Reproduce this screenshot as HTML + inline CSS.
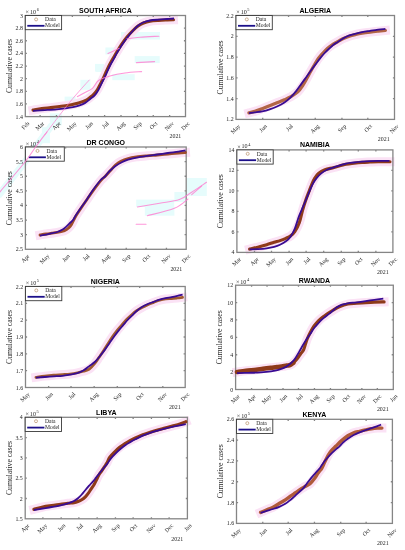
<!DOCTYPE html>
<html><head><meta charset="utf-8"><style>
html,body{margin:0;padding:0;background:#fff;width:405px;height:550px;overflow:hidden}
svg{display:block;filter:blur(0.3px)}
.s{font-family:"Liberation Serif",serif;fill:#262626}
.b{font-family:"Liberation Sans",sans-serif;font-weight:bold;fill:#000}
</style></head><body>
<svg width="405" height="550" viewBox="0 0 405 550">
<rect width="405" height="550" fill="#fff"/>
<rect x="64.6" y="96.6" width="11.0" height="6.0" fill="#e6fcfc"/>
<rect x="80.4" y="79.8" width="10.0" height="10.0" fill="#e6fcfc"/>
<rect x="96.2" y="64.0" width="8.0" height="8.0" fill="#e6fcfc"/>
<rect x="49.8" y="113.4" width="12.0" height="12.0" fill="#e6fcfc"/>
<rect x="41.9" y="127.2" width="8.0" height="16.0" fill="#e6fcfc"/>
<rect x="121.0" y="32.0" width="39.0" height="7.5" fill="#e6fcfc"/>
<rect x="134.7" y="56.1" width="25.0" height="7.0" fill="#e6fcfc"/>
<rect x="112.3" y="74.2" width="22.4" height="6.0" fill="#e6fcfc"/>
<rect x="95.0" y="63.9" width="8.6" height="7.7" fill="#e6fcfc"/>
<rect x="105.4" y="47.5" width="12.0" height="7.0" fill="#e6fcfc"/>
<rect x="136.2" y="199.6" width="38.0" height="7.4" fill="#e6fcfc"/>
<rect x="144.8" y="207.0" width="29.6" height="8.7" fill="#e6fcfc"/>
<rect x="174.4" y="192.0" width="12.4" height="10.0" fill="#e6fcfc"/>
<rect x="186.8" y="178.0" width="20.0" height="18.0" fill="#e6fcfc"/>
<path d="M-2,196 L25,162 L40,141 L52,125" stroke="#e6fcfc" stroke-width="7" fill="none"/>
<path d="M33.00,110.10 C34.48,109.85 38.95,109.02 41.90,108.60 C44.85,108.18 47.75,107.95 50.70,107.60 C53.65,107.25 56.63,106.88 59.60,106.50 C62.57,106.12 66.03,105.70 68.50,105.30 C70.97,104.90 72.42,104.58 74.40,104.10 C76.38,103.62 78.42,103.07 80.40,102.40 C82.38,101.73 84.70,100.92 86.30,100.10 C87.90,99.28 88.72,98.52 90.00,97.50 C91.28,96.48 92.75,95.33 94.00,94.00 C95.25,92.67 96.38,91.27 97.50,89.50 C98.62,87.73 99.65,85.45 100.70,83.40 C101.75,81.35 102.78,79.37 103.80,77.20 C104.82,75.03 105.78,72.60 106.80,70.40 C107.82,68.20 108.77,66.15 109.90,64.00 C111.03,61.85 112.50,59.42 113.60,57.50 C114.70,55.58 115.17,54.70 116.50,52.50 C117.83,50.30 119.85,46.88 121.60,44.30 C123.35,41.72 125.18,39.22 127.00,37.00 C128.82,34.78 130.67,32.83 132.50,31.00 C134.33,29.17 136.17,27.33 138.00,26.00 C139.83,24.67 141.50,23.80 143.50,23.00 C145.50,22.20 147.48,21.63 150.00,21.20 C152.52,20.77 155.72,20.60 158.60,20.40 C161.48,20.20 164.82,20.10 167.30,20.00 C169.78,19.90 172.47,19.83 173.50,19.80" fill="none" stroke="#fbe2f5" stroke-width="9" stroke-linejoin="round" stroke-linecap="square"/>
<rect x="25.30" y="15.50" width="160.20" height="101.10" fill="none" stroke="#858585" stroke-width="1.3"/>
<text x="22.90" y="118.60" font-size="5.9" text-anchor="end" class="s">1.4</text>
<path d="M25.30,103.96h1.60M185.50,103.96h-1.60" stroke="#858585" stroke-width="1.3"/>
<text x="22.90" y="105.96" font-size="5.9" text-anchor="end" class="s">1.6</text>
<path d="M25.30,91.33h1.60M185.50,91.33h-1.60" stroke="#858585" stroke-width="1.3"/>
<text x="22.90" y="93.33" font-size="5.9" text-anchor="end" class="s">1.8</text>
<path d="M25.30,78.69h1.60M185.50,78.69h-1.60" stroke="#858585" stroke-width="1.3"/>
<text x="22.90" y="80.69" font-size="5.9" text-anchor="end" class="s">2</text>
<path d="M25.30,66.05h1.60M185.50,66.05h-1.60" stroke="#858585" stroke-width="1.3"/>
<text x="22.90" y="68.05" font-size="5.9" text-anchor="end" class="s">2.2</text>
<path d="M25.30,53.41h1.60M185.50,53.41h-1.60" stroke="#858585" stroke-width="1.3"/>
<text x="22.90" y="55.41" font-size="5.9" text-anchor="end" class="s">2.4</text>
<path d="M25.30,40.77h1.60M185.50,40.77h-1.60" stroke="#858585" stroke-width="1.3"/>
<text x="22.90" y="42.77" font-size="5.9" text-anchor="end" class="s">2.6</text>
<path d="M25.30,28.14h1.60M185.50,28.14h-1.60" stroke="#858585" stroke-width="1.3"/>
<text x="22.90" y="30.14" font-size="5.9" text-anchor="end" class="s">2.8</text>
<text x="22.90" y="17.50" font-size="5.9" text-anchor="end" class="s">3</text>
<text transform="translate(29.90,123.80) rotate(-45)" font-size="5.9" text-anchor="end" class="s">Feb</text>
<path d="M40.10,116.60v-1.60M40.10,15.50v1.60" stroke="#858585" stroke-width="1.3"/>
<text transform="translate(44.70,123.80) rotate(-45)" font-size="5.9" text-anchor="end" class="s">Mar</text>
<path d="M56.49,116.60v-1.60M56.49,15.50v1.60" stroke="#858585" stroke-width="1.3"/>
<text transform="translate(61.09,123.80) rotate(-45)" font-size="5.9" text-anchor="end" class="s">Apr</text>
<path d="M72.36,116.60v-1.60M72.36,15.50v1.60" stroke="#858585" stroke-width="1.3"/>
<text transform="translate(76.96,123.80) rotate(-45)" font-size="5.9" text-anchor="end" class="s">May</text>
<path d="M88.75,116.60v-1.60M88.75,15.50v1.60" stroke="#858585" stroke-width="1.3"/>
<text transform="translate(93.35,123.80) rotate(-45)" font-size="5.9" text-anchor="end" class="s">Jun</text>
<path d="M104.61,116.60v-1.60M104.61,15.50v1.60" stroke="#858585" stroke-width="1.3"/>
<text transform="translate(109.21,123.80) rotate(-45)" font-size="5.9" text-anchor="end" class="s">Jul</text>
<path d="M121.00,116.60v-1.60M121.00,15.50v1.60" stroke="#858585" stroke-width="1.3"/>
<text transform="translate(125.60,123.80) rotate(-45)" font-size="5.9" text-anchor="end" class="s">Aug</text>
<path d="M137.39,116.60v-1.60M137.39,15.50v1.60" stroke="#858585" stroke-width="1.3"/>
<text transform="translate(141.99,123.80) rotate(-45)" font-size="5.9" text-anchor="end" class="s">Sep</text>
<path d="M153.25,116.60v-1.60M153.25,15.50v1.60" stroke="#858585" stroke-width="1.3"/>
<text transform="translate(157.85,123.80) rotate(-45)" font-size="5.9" text-anchor="end" class="s">Oct</text>
<path d="M169.64,116.60v-1.60M169.64,15.50v1.60" stroke="#858585" stroke-width="1.3"/>
<text transform="translate(174.24,123.80) rotate(-45)" font-size="5.9" text-anchor="end" class="s">Nov</text>
<text transform="translate(190.10,123.80) rotate(-45)" font-size="5.9" text-anchor="end" class="s">Dec</text>
<text x="175.40" y="138.00" font-size="5.9" text-anchor="middle" class="s">2021</text>
<text x="105.40" y="13.00" font-size="7.0" text-anchor="middle" class="b">SOUTH AFRICA</text>
<text transform="translate(11.80,66.05) rotate(-90)" font-size="7.7" text-anchor="middle" class="s">Cumulative cases</text>
<text x="25.60" y="14.00" font-size="6.1" class="s"><tspan dy="0.3">&#215;</tspan><tspan dx="0.9" dy="-0.3">10</tspan><tspan font-size="4.39" dx="0.6" dy="-2.8">6</tspan></text>
<path d="M33.00,110.10 C34.48,109.85 38.95,109.02 41.90,108.60 C44.85,108.18 47.75,107.95 50.70,107.60 C53.65,107.25 56.63,106.88 59.60,106.50 C62.57,106.12 66.03,105.70 68.50,105.30 C70.97,104.90 72.42,104.58 74.40,104.10 C76.38,103.62 78.42,103.07 80.40,102.40 C82.38,101.73 84.70,100.92 86.30,100.10 C87.90,99.28 88.72,98.52 90.00,97.50 C91.28,96.48 92.75,95.33 94.00,94.00 C95.25,92.67 96.38,91.27 97.50,89.50 C98.62,87.73 99.65,85.45 100.70,83.40 C101.75,81.35 102.78,79.37 103.80,77.20 C104.82,75.03 105.78,72.60 106.80,70.40 C107.82,68.20 108.77,66.15 109.90,64.00 C111.03,61.85 112.50,59.42 113.60,57.50 C114.70,55.58 115.17,54.70 116.50,52.50 C117.83,50.30 119.85,46.88 121.60,44.30 C123.35,41.72 125.18,39.22 127.00,37.00 C128.82,34.78 130.67,32.83 132.50,31.00 C134.33,29.17 136.17,27.33 138.00,26.00 C139.83,24.67 141.50,23.80 143.50,23.00 C145.50,22.20 147.48,21.63 150.00,21.20 C152.52,20.77 155.72,20.60 158.60,20.40 C161.48,20.20 164.82,20.10 167.30,20.00 C169.78,19.90 172.47,19.83 173.50,19.80" fill="none" stroke="#8e3a1a" stroke-width="3.1" stroke-linejoin="round" stroke-linecap="round"/>
<path d="M33.00,110.80 C34.97,110.68 40.85,110.35 44.80,110.10 C48.75,109.85 53.23,109.60 56.70,109.30 C60.17,109.00 62.88,108.67 65.60,108.30 C68.32,107.93 70.78,107.55 73.00,107.10 C75.22,106.65 76.93,106.27 78.90,105.60 C80.87,104.93 82.97,104.17 84.80,103.10 C86.63,102.03 88.22,100.53 89.90,99.20 C91.58,97.87 93.45,96.70 94.90,95.10 C96.35,93.50 97.47,91.55 98.60,89.60 C99.73,87.65 100.67,85.47 101.70,83.40 C102.73,81.33 103.78,79.37 104.80,77.20 C105.82,75.03 106.78,72.60 107.80,70.40 C108.82,68.20 109.77,66.15 110.90,64.00 C112.03,61.85 113.55,59.42 114.60,57.50 C115.65,55.58 115.90,54.70 117.20,52.50 C118.50,50.30 120.68,46.85 122.40,44.30 C124.12,41.75 125.78,39.42 127.50,37.20 C129.22,34.98 130.97,32.90 132.70,31.00 C134.43,29.10 136.17,27.22 137.90,25.80 C139.63,24.38 141.08,23.38 143.10,22.50 C145.12,21.62 147.42,20.98 150.00,20.50 C152.58,20.02 155.72,19.85 158.60,19.60 C161.48,19.35 164.73,19.18 167.30,19.00 C169.87,18.82 172.88,18.58 174.00,18.50" fill="none" stroke="#380c92" stroke-width="1.8" stroke-linejoin="round" stroke-linecap="butt"/>
<rect x="25.30" y="15.50" width="36.30" height="14.20" fill="#fff" stroke="#3a3a3a" stroke-width="0.9"/>
<circle cx="36.10" cy="19.40" r="1.5" fill="none" stroke="#b8906a" stroke-width="0.7"/>
<text x="45.10" y="21.30" font-size="5.6" class="s">Data</text>
<path d="M27.30,25.80h17.20" stroke="#1c108a" stroke-width="1.8"/>
<text x="45.10" y="27.30" font-size="5.6" class="s">Model</text>
<path d="M248.90,112.90 C249.88,112.65 252.58,112.10 254.80,111.40 C257.02,110.70 259.73,109.65 262.20,108.70 C264.67,107.75 267.13,106.68 269.60,105.70 C272.07,104.72 274.53,103.78 277.00,102.80 C279.47,101.82 282.17,100.78 284.40,99.80 C286.63,98.82 288.17,98.22 290.40,96.90 C292.63,95.58 295.75,93.80 297.80,91.90 C299.85,90.00 301.20,87.73 302.70,85.50 C304.20,83.27 305.48,80.83 306.80,78.50 C308.12,76.17 309.30,73.83 310.60,71.50 C311.90,69.17 313.28,66.70 314.60,64.50 C315.92,62.30 317.10,60.22 318.50,58.30 C319.90,56.38 321.52,54.63 323.00,53.00 C324.48,51.37 325.92,49.83 327.40,48.50 C328.88,47.17 330.40,46.02 331.90,45.00 C333.40,43.98 334.58,43.43 336.40,42.40 C338.22,41.37 340.65,39.83 342.80,38.80 C344.95,37.77 347.15,36.92 349.30,36.20 C351.45,35.48 353.57,35.00 355.70,34.50 C357.83,34.00 359.70,33.60 362.10,33.20 C364.50,32.80 367.42,32.43 370.10,32.10 C372.78,31.77 375.65,31.47 378.20,31.20 C380.75,30.93 384.20,30.62 385.40,30.50" fill="none" stroke="#fbe2f5" stroke-width="9" stroke-linejoin="round" stroke-linecap="square"/>
<rect x="236.00" y="15.50" width="158.50" height="103.90" fill="none" stroke="#858585" stroke-width="1.3"/>
<text x="233.60" y="121.40" font-size="5.9" text-anchor="end" class="s">1.2</text>
<path d="M236.00,98.62h1.60M394.50,98.62h-1.60" stroke="#858585" stroke-width="1.3"/>
<text x="233.60" y="100.62" font-size="5.9" text-anchor="end" class="s">1.4</text>
<path d="M236.00,77.84h1.60M394.50,77.84h-1.60" stroke="#858585" stroke-width="1.3"/>
<text x="233.60" y="79.84" font-size="5.9" text-anchor="end" class="s">1.6</text>
<path d="M236.00,57.06h1.60M394.50,57.06h-1.60" stroke="#858585" stroke-width="1.3"/>
<text x="233.60" y="59.06" font-size="5.9" text-anchor="end" class="s">1.8</text>
<path d="M236.00,36.28h1.60M394.50,36.28h-1.60" stroke="#858585" stroke-width="1.3"/>
<text x="233.60" y="38.28" font-size="5.9" text-anchor="end" class="s">2</text>
<text x="233.60" y="17.50" font-size="5.9" text-anchor="end" class="s">2.2</text>
<text transform="translate(240.60,126.60) rotate(-45)" font-size="5.9" text-anchor="end" class="s">May</text>
<path d="M262.70,119.40v-1.60M262.70,15.50v1.60" stroke="#858585" stroke-width="1.3"/>
<text transform="translate(267.30,126.60) rotate(-45)" font-size="5.9" text-anchor="end" class="s">Jun</text>
<path d="M288.55,119.40v-1.60M288.55,15.50v1.60" stroke="#858585" stroke-width="1.3"/>
<text transform="translate(293.15,126.60) rotate(-45)" font-size="5.9" text-anchor="end" class="s">Jul</text>
<path d="M315.25,119.40v-1.60M315.25,15.50v1.60" stroke="#858585" stroke-width="1.3"/>
<text transform="translate(319.85,126.60) rotate(-45)" font-size="5.9" text-anchor="end" class="s">Aug</text>
<path d="M341.95,119.40v-1.60M341.95,15.50v1.60" stroke="#858585" stroke-width="1.3"/>
<text transform="translate(346.55,126.60) rotate(-45)" font-size="5.9" text-anchor="end" class="s">Sep</text>
<path d="M367.80,119.40v-1.60M367.80,15.50v1.60" stroke="#858585" stroke-width="1.3"/>
<text transform="translate(372.40,126.60) rotate(-45)" font-size="5.9" text-anchor="end" class="s">Oct</text>
<text transform="translate(399.10,126.60) rotate(-45)" font-size="5.9" text-anchor="end" class="s">Nov</text>
<text x="383.70" y="140.50" font-size="5.9" text-anchor="middle" class="s">2021</text>
<text x="315.25" y="13.00" font-size="7.0" text-anchor="middle" class="b">ALGERIA</text>
<text transform="translate(222.50,67.45) rotate(-90)" font-size="7.7" text-anchor="middle" class="s">Cumulative cases</text>
<text x="236.30" y="14.00" font-size="6.1" class="s"><tspan dy="0.3">&#215;</tspan><tspan dx="0.9" dy="-0.3">10</tspan><tspan font-size="4.39" dx="0.6" dy="-2.8">5</tspan></text>
<path d="M248.90,112.90 C249.88,112.65 252.58,112.10 254.80,111.40 C257.02,110.70 259.73,109.65 262.20,108.70 C264.67,107.75 267.13,106.68 269.60,105.70 C272.07,104.72 274.53,103.78 277.00,102.80 C279.47,101.82 282.17,100.78 284.40,99.80 C286.63,98.82 288.17,98.22 290.40,96.90 C292.63,95.58 295.75,93.80 297.80,91.90 C299.85,90.00 301.20,87.73 302.70,85.50 C304.20,83.27 305.48,80.83 306.80,78.50 C308.12,76.17 309.30,73.83 310.60,71.50 C311.90,69.17 313.28,66.70 314.60,64.50 C315.92,62.30 317.10,60.22 318.50,58.30 C319.90,56.38 321.52,54.63 323.00,53.00 C324.48,51.37 325.92,49.83 327.40,48.50 C328.88,47.17 330.40,46.02 331.90,45.00 C333.40,43.98 334.58,43.43 336.40,42.40 C338.22,41.37 340.65,39.83 342.80,38.80 C344.95,37.77 347.15,36.92 349.30,36.20 C351.45,35.48 353.57,35.00 355.70,34.50 C357.83,34.00 359.70,33.60 362.10,33.20 C364.50,32.80 367.42,32.43 370.10,32.10 C372.78,31.77 375.65,31.47 378.20,31.20 C380.75,30.93 384.20,30.62 385.40,30.50" fill="none" stroke="#b26446" stroke-width="3.2" stroke-linejoin="round" stroke-linecap="round"/>
<path d="M248.90,113.10 C249.88,112.98 252.58,112.68 254.80,112.40 C257.02,112.12 259.73,111.90 262.20,111.40 C264.67,110.90 267.13,110.22 269.60,109.40 C272.07,108.58 274.53,107.65 277.00,106.50 C279.47,105.35 282.17,103.98 284.40,102.50 C286.63,101.02 288.42,99.53 290.40,97.60 C292.38,95.67 294.50,93.15 296.30,90.90 C298.10,88.65 299.58,86.35 301.20,84.10 C302.82,81.85 304.40,79.63 306.00,77.40 C307.60,75.17 309.18,72.92 310.80,70.70 C312.42,68.48 314.12,66.20 315.70,64.10 C317.28,62.00 318.80,59.95 320.30,58.10 C321.80,56.25 323.20,54.60 324.70,53.00 C326.20,51.40 327.83,49.87 329.30,48.50 C330.77,47.13 332.08,45.90 333.50,44.80 C334.92,43.70 336.12,43.02 337.80,41.90 C339.48,40.78 341.68,39.20 343.60,38.10 C345.52,37.00 347.28,36.05 349.30,35.30 C351.32,34.55 353.57,34.13 355.70,33.60 C357.83,33.07 359.70,32.57 362.10,32.10 C364.50,31.63 367.42,31.22 370.10,30.80 C372.78,30.38 375.65,29.92 378.20,29.60 C380.75,29.28 384.20,29.02 385.40,28.90" fill="none" stroke="#380c92" stroke-width="1.8" stroke-linejoin="round" stroke-linecap="butt"/>
<rect x="236.00" y="15.50" width="36.30" height="14.20" fill="#fff" stroke="#3a3a3a" stroke-width="0.9"/>
<circle cx="246.80" cy="19.40" r="1.5" fill="none" stroke="#b8906a" stroke-width="0.7"/>
<text x="255.80" y="21.30" font-size="5.6" class="s">Data</text>
<path d="M238.00,25.80h17.20" stroke="#1c108a" stroke-width="1.8"/>
<text x="255.80" y="27.30" font-size="5.6" class="s">Model</text>
<path d="M40.00,235.00 C41.02,234.83 44.15,234.30 46.10,234.00 C48.05,233.70 49.85,233.47 51.70,233.20 C53.55,232.93 55.48,232.70 57.20,232.40 C58.92,232.10 60.73,231.72 62.00,231.40 C63.27,231.08 63.72,231.07 64.80,230.50 C65.88,229.93 67.38,229.00 68.50,228.00 C69.62,227.00 70.32,226.42 71.50,224.50 C72.68,222.58 73.77,219.58 75.60,216.50 C77.43,213.42 80.68,208.72 82.50,206.00 C84.32,203.28 84.67,202.83 86.50,200.20 C88.33,197.57 91.05,193.53 93.50,190.20 C95.95,186.87 99.20,182.57 101.20,180.20 C103.20,177.83 103.95,177.62 105.50,176.00 C107.05,174.38 108.83,172.33 110.50,170.50 C112.17,168.67 113.75,166.55 115.50,165.00 C117.25,163.45 118.90,162.28 121.00,161.20 C123.10,160.12 125.52,159.22 128.10,158.50 C130.68,157.78 133.35,157.35 136.50,156.90 C139.65,156.45 143.50,156.12 147.00,155.80 C150.50,155.48 154.00,155.30 157.50,155.00 C161.00,154.70 164.50,154.33 168.00,154.00 C171.50,153.67 175.58,153.25 178.50,153.00 C181.42,152.75 184.33,152.58 185.50,152.50" fill="none" stroke="#fbe2f5" stroke-width="9" stroke-linejoin="round" stroke-linecap="square"/>
<rect x="25.40" y="147.00" width="160.80" height="102.30" fill="none" stroke="#858585" stroke-width="1.3"/>
<text x="23.00" y="251.30" font-size="5.9" text-anchor="end" class="s">2.5</text>
<path d="M25.40,234.69h1.60M186.20,234.69h-1.60" stroke="#858585" stroke-width="1.3"/>
<text x="23.00" y="236.69" font-size="5.9" text-anchor="end" class="s">3</text>
<path d="M25.40,220.07h1.60M186.20,220.07h-1.60" stroke="#858585" stroke-width="1.3"/>
<text x="23.00" y="222.07" font-size="5.9" text-anchor="end" class="s">3.5</text>
<path d="M25.40,205.46h1.60M186.20,205.46h-1.60" stroke="#858585" stroke-width="1.3"/>
<text x="23.00" y="207.46" font-size="5.9" text-anchor="end" class="s">4</text>
<path d="M25.40,190.84h1.60M186.20,190.84h-1.60" stroke="#858585" stroke-width="1.3"/>
<text x="23.00" y="192.84" font-size="5.9" text-anchor="end" class="s">4.5</text>
<path d="M25.40,176.23h1.60M186.20,176.23h-1.60" stroke="#858585" stroke-width="1.3"/>
<text x="23.00" y="178.23" font-size="5.9" text-anchor="end" class="s">5</text>
<path d="M25.40,161.61h1.60M186.20,161.61h-1.60" stroke="#858585" stroke-width="1.3"/>
<text x="23.00" y="163.61" font-size="5.9" text-anchor="end" class="s">5.5</text>
<text x="23.00" y="149.00" font-size="5.9" text-anchor="end" class="s">6</text>
<text transform="translate(30.00,256.50) rotate(-45)" font-size="5.9" text-anchor="end" class="s">Apr</text>
<path d="M45.17,249.30v-1.60M45.17,147.00v1.60" stroke="#858585" stroke-width="1.3"/>
<text transform="translate(49.77,256.50) rotate(-45)" font-size="5.9" text-anchor="end" class="s">May</text>
<path d="M65.60,249.30v-1.60M65.60,147.00v1.60" stroke="#858585" stroke-width="1.3"/>
<text transform="translate(70.20,256.50) rotate(-45)" font-size="5.9" text-anchor="end" class="s">Jun</text>
<path d="M85.37,249.30v-1.60M85.37,147.00v1.60" stroke="#858585" stroke-width="1.3"/>
<text transform="translate(89.97,256.50) rotate(-45)" font-size="5.9" text-anchor="end" class="s">Jul</text>
<path d="M105.80,249.30v-1.60M105.80,147.00v1.60" stroke="#858585" stroke-width="1.3"/>
<text transform="translate(110.40,256.50) rotate(-45)" font-size="5.9" text-anchor="end" class="s">Aug</text>
<path d="M126.23,249.30v-1.60M126.23,147.00v1.60" stroke="#858585" stroke-width="1.3"/>
<text transform="translate(130.83,256.50) rotate(-45)" font-size="5.9" text-anchor="end" class="s">Sep</text>
<path d="M146.00,249.30v-1.60M146.00,147.00v1.60" stroke="#858585" stroke-width="1.3"/>
<text transform="translate(150.60,256.50) rotate(-45)" font-size="5.9" text-anchor="end" class="s">Oct</text>
<path d="M166.43,249.30v-1.60M166.43,147.00v1.60" stroke="#858585" stroke-width="1.3"/>
<text transform="translate(171.03,256.50) rotate(-45)" font-size="5.9" text-anchor="end" class="s">Nov</text>
<text transform="translate(190.80,256.50) rotate(-45)" font-size="5.9" text-anchor="end" class="s">Dec</text>
<text x="176.30" y="271.00" font-size="5.9" text-anchor="middle" class="s">2021</text>
<text x="105.80" y="144.50" font-size="7.0" text-anchor="middle" class="b">DR CONGO</text>
<text transform="translate(11.90,198.15) rotate(-90)" font-size="7.7" text-anchor="middle" class="s">Cumulative cases</text>
<text x="25.70" y="145.50" font-size="6.1" class="s"><tspan dy="0.3">&#215;</tspan><tspan dx="0.9" dy="-0.3">10</tspan><tspan font-size="4.39" dx="0.6" dy="-2.8">4</tspan></text>
<path d="M40.00,235.00 C41.02,234.83 44.15,234.30 46.10,234.00 C48.05,233.70 49.85,233.47 51.70,233.20 C53.55,232.93 55.48,232.70 57.20,232.40 C58.92,232.10 60.73,231.72 62.00,231.40 C63.27,231.08 63.72,231.07 64.80,230.50 C65.88,229.93 67.38,229.00 68.50,228.00 C69.62,227.00 70.32,226.42 71.50,224.50 C72.68,222.58 73.77,219.58 75.60,216.50 C77.43,213.42 80.68,208.72 82.50,206.00 C84.32,203.28 84.67,202.83 86.50,200.20 C88.33,197.57 91.05,193.53 93.50,190.20 C95.95,186.87 99.20,182.57 101.20,180.20 C103.20,177.83 103.95,177.62 105.50,176.00 C107.05,174.38 108.83,172.33 110.50,170.50 C112.17,168.67 113.75,166.55 115.50,165.00 C117.25,163.45 118.90,162.28 121.00,161.20 C123.10,160.12 125.52,159.22 128.10,158.50 C130.68,157.78 133.35,157.35 136.50,156.90 C139.65,156.45 143.50,156.12 147.00,155.80 C150.50,155.48 154.00,155.30 157.50,155.00 C161.00,154.70 164.50,154.33 168.00,154.00 C171.50,153.67 175.58,153.25 178.50,153.00 C181.42,152.75 184.33,152.58 185.50,152.50" fill="none" stroke="#a04c2c" stroke-width="2.8" stroke-linejoin="round" stroke-linecap="round"/>
<path d="M40.00,235.60 C41.02,235.43 44.43,234.93 46.10,234.60 C47.77,234.27 48.12,234.03 50.00,233.60 C51.88,233.17 55.30,232.67 57.40,232.00 C59.50,231.33 61.12,230.48 62.60,229.60 C64.08,228.72 65.07,227.80 66.30,226.70 C67.53,225.60 68.88,224.12 70.00,223.00 C71.12,221.88 72.00,221.33 73.00,220.00 C74.00,218.67 74.35,217.50 76.00,215.00 C77.65,212.50 81.15,207.50 82.90,205.00 C84.65,202.50 84.82,202.50 86.50,200.00 C88.18,197.50 90.63,193.33 93.00,190.00 C95.37,186.67 98.70,182.25 100.70,180.00 C102.70,177.75 103.58,177.92 105.00,176.50 C106.42,175.08 107.45,173.25 109.20,171.50 C110.95,169.75 113.40,167.55 115.50,166.00 C117.60,164.45 119.70,163.25 121.80,162.20 C123.90,161.15 125.65,160.47 128.10,159.70 C130.55,158.93 133.35,158.23 136.50,157.60 C139.65,156.97 143.50,156.42 147.00,155.90 C150.50,155.38 154.00,154.98 157.50,154.50 C161.00,154.02 164.50,153.47 168.00,153.00 C171.50,152.53 175.58,152.12 178.50,151.70 C181.42,151.28 184.33,150.70 185.50,150.50" fill="none" stroke="#380c92" stroke-width="1.8" stroke-linejoin="round" stroke-linecap="butt"/>
<rect x="25.40" y="147.00" width="38.90" height="14.20" fill="#fff" stroke="#3a3a3a" stroke-width="0.9"/>
<circle cx="37.50" cy="150.90" r="1.5" fill="none" stroke="#b8906a" stroke-width="0.7"/>
<text x="46.50" y="152.80" font-size="5.6" class="s">Data</text>
<path d="M28.70,157.30h17.20" stroke="#1c108a" stroke-width="1.8"/>
<text x="46.50" y="158.80" font-size="5.6" class="s">Model</text>
<path d="M249.60,249.10 C250.97,248.78 254.95,247.93 257.80,247.20 C260.65,246.47 263.98,245.52 266.70,244.70 C269.42,243.88 271.88,242.98 274.10,242.30 C276.32,241.62 278.03,241.27 280.00,240.60 C281.97,239.93 284.17,239.05 285.90,238.30 C287.63,237.55 288.92,237.20 290.40,236.10 C291.88,235.00 293.32,233.92 294.80,231.70 C296.28,229.48 298.02,226.33 299.30,222.80 C300.58,219.27 301.42,214.30 302.50,210.50 C303.58,206.70 304.75,203.08 305.80,200.00 C306.85,196.92 307.85,194.50 308.80,192.00 C309.75,189.50 310.55,187.25 311.50,185.00 C312.45,182.75 313.33,180.42 314.50,178.50 C315.67,176.58 316.75,174.95 318.50,173.50 C320.25,172.05 322.42,170.80 325.00,169.80 C327.58,168.80 330.50,168.42 334.00,167.50 C337.50,166.58 342.67,165.02 346.00,164.30 C349.33,163.58 351.33,163.52 354.00,163.20 C356.67,162.88 359.33,162.60 362.00,162.40 C364.67,162.20 367.30,162.12 370.00,162.00 C372.70,161.88 374.87,161.75 378.20,161.70 C381.53,161.65 388.03,161.70 390.00,161.70" fill="none" stroke="#fbe2f5" stroke-width="9" stroke-linejoin="round" stroke-linecap="square"/>
<rect x="236.90" y="149.90" width="156.00" height="102.50" fill="none" stroke="#858585" stroke-width="1.3"/>
<text x="234.50" y="254.40" font-size="5.9" text-anchor="end" class="s">4</text>
<path d="M236.90,231.90h1.60M392.90,231.90h-1.60" stroke="#858585" stroke-width="1.3"/>
<text x="234.50" y="233.90" font-size="5.9" text-anchor="end" class="s">6</text>
<path d="M236.90,211.40h1.60M392.90,211.40h-1.60" stroke="#858585" stroke-width="1.3"/>
<text x="234.50" y="213.40" font-size="5.9" text-anchor="end" class="s">8</text>
<path d="M236.90,190.90h1.60M392.90,190.90h-1.60" stroke="#858585" stroke-width="1.3"/>
<text x="234.50" y="192.90" font-size="5.9" text-anchor="end" class="s">10</text>
<path d="M236.90,170.40h1.60M392.90,170.40h-1.60" stroke="#858585" stroke-width="1.3"/>
<text x="234.50" y="172.40" font-size="5.9" text-anchor="end" class="s">12</text>
<text x="234.50" y="151.90" font-size="5.9" text-anchor="end" class="s">14</text>
<text transform="translate(241.50,259.60) rotate(-45)" font-size="5.9" text-anchor="end" class="s">Mar</text>
<path d="M254.49,252.40v-1.60M254.49,149.90v1.60" stroke="#858585" stroke-width="1.3"/>
<text transform="translate(259.09,259.60) rotate(-45)" font-size="5.9" text-anchor="end" class="s">Apr</text>
<path d="M271.50,252.40v-1.60M271.50,149.90v1.60" stroke="#858585" stroke-width="1.3"/>
<text transform="translate(276.10,259.60) rotate(-45)" font-size="5.9" text-anchor="end" class="s">May</text>
<path d="M289.09,252.40v-1.60M289.09,149.90v1.60" stroke="#858585" stroke-width="1.3"/>
<text transform="translate(293.69,259.60) rotate(-45)" font-size="5.9" text-anchor="end" class="s">Jun</text>
<path d="M306.11,252.40v-1.60M306.11,149.90v1.60" stroke="#858585" stroke-width="1.3"/>
<text transform="translate(310.71,259.60) rotate(-45)" font-size="5.9" text-anchor="end" class="s">Jul</text>
<path d="M323.69,252.40v-1.60M323.69,149.90v1.60" stroke="#858585" stroke-width="1.3"/>
<text transform="translate(328.29,259.60) rotate(-45)" font-size="5.9" text-anchor="end" class="s">Aug</text>
<path d="M341.28,252.40v-1.60M341.28,149.90v1.60" stroke="#858585" stroke-width="1.3"/>
<text transform="translate(345.88,259.60) rotate(-45)" font-size="5.9" text-anchor="end" class="s">Sep</text>
<path d="M358.30,252.40v-1.60M358.30,149.90v1.60" stroke="#858585" stroke-width="1.3"/>
<text transform="translate(362.90,259.60) rotate(-45)" font-size="5.9" text-anchor="end" class="s">Oct</text>
<path d="M375.88,252.40v-1.60M375.88,149.90v1.60" stroke="#858585" stroke-width="1.3"/>
<text transform="translate(380.48,259.60) rotate(-45)" font-size="5.9" text-anchor="end" class="s">Nov</text>
<text transform="translate(397.50,259.60) rotate(-45)" font-size="5.9" text-anchor="end" class="s">Dec</text>
<text x="382.80" y="274.00" font-size="5.9" text-anchor="middle" class="s">2021</text>
<text x="314.90" y="147.40" font-size="7.0" text-anchor="middle" class="b">NAMIBIA</text>
<text transform="translate(223.40,201.15) rotate(-90)" font-size="7.7" text-anchor="middle" class="s">Cumulative cases</text>
<text x="237.20" y="148.40" font-size="6.1" class="s"><tspan dy="0.3">&#215;</tspan><tspan dx="0.9" dy="-0.3">10</tspan><tspan font-size="4.39" dx="0.6" dy="-2.8">4</tspan></text>
<path d="M249.60,249.10 C250.97,248.78 254.95,247.93 257.80,247.20 C260.65,246.47 263.98,245.52 266.70,244.70 C269.42,243.88 271.88,242.98 274.10,242.30 C276.32,241.62 278.03,241.27 280.00,240.60 C281.97,239.93 284.17,239.05 285.90,238.30 C287.63,237.55 288.92,237.20 290.40,236.10 C291.88,235.00 293.32,233.92 294.80,231.70 C296.28,229.48 298.02,226.33 299.30,222.80 C300.58,219.27 301.42,214.30 302.50,210.50 C303.58,206.70 304.75,203.08 305.80,200.00 C306.85,196.92 307.85,194.50 308.80,192.00 C309.75,189.50 310.55,187.25 311.50,185.00 C312.45,182.75 313.33,180.42 314.50,178.50 C315.67,176.58 316.75,174.95 318.50,173.50 C320.25,172.05 322.42,170.80 325.00,169.80 C327.58,168.80 330.50,168.42 334.00,167.50 C337.50,166.58 342.67,165.02 346.00,164.30 C349.33,163.58 351.33,163.52 354.00,163.20 C356.67,162.88 359.33,162.60 362.00,162.40 C364.67,162.20 367.30,162.12 370.00,162.00 C372.70,161.88 374.87,161.75 378.20,161.70 C381.53,161.65 388.03,161.70 390.00,161.70" fill="none" stroke="#8e3a1a" stroke-width="3.1" stroke-linejoin="round" stroke-linecap="round"/>
<path d="M249.60,249.40 C250.97,249.35 254.95,249.28 257.80,249.10 C260.65,248.92 263.98,248.68 266.70,248.30 C269.42,247.92 271.88,247.40 274.10,246.80 C276.32,246.20 278.03,245.62 280.00,244.70 C281.97,243.78 284.17,242.60 285.90,241.30 C287.63,240.00 288.92,239.00 290.40,236.90 C291.88,234.80 293.37,232.17 294.80,228.70 C296.23,225.23 297.67,219.68 299.00,216.10 C300.33,212.52 301.53,210.17 302.80,207.20 C304.07,204.23 305.43,201.07 306.60,198.30 C307.77,195.53 308.73,193.05 309.80,190.60 C310.87,188.15 311.83,185.72 313.00,183.60 C314.17,181.48 315.42,179.60 316.80,177.90 C318.18,176.20 319.60,174.75 321.30,173.40 C323.00,172.05 324.88,170.82 327.00,169.80 C329.12,168.78 330.83,168.33 334.00,167.30 C337.17,166.27 342.67,164.40 346.00,163.60 C349.33,162.80 351.33,162.82 354.00,162.50 C356.67,162.18 359.33,161.92 362.00,161.70 C364.67,161.48 367.30,161.33 370.00,161.20 C372.70,161.07 374.97,160.97 378.20,160.90 C381.43,160.83 387.53,160.82 389.40,160.80" fill="none" stroke="#380c92" stroke-width="1.8" stroke-linejoin="round" stroke-linecap="butt"/>
<rect x="236.90" y="149.90" width="36.30" height="14.20" fill="#fff" stroke="#3a3a3a" stroke-width="0.9"/>
<circle cx="247.70" cy="153.80" r="1.5" fill="none" stroke="#b8906a" stroke-width="0.7"/>
<text x="256.70" y="155.70" font-size="5.6" class="s">Data</text>
<path d="M238.90,160.20h17.20" stroke="#1c108a" stroke-width="1.8"/>
<text x="256.70" y="161.70" font-size="5.6" class="s">Model</text>
<path d="M35.90,377.30 C37.38,377.10 41.83,376.45 44.80,376.10 C47.77,375.75 50.73,375.45 53.70,375.20 C56.67,374.95 59.88,374.80 62.60,374.60 C65.32,374.40 67.53,374.30 70.00,374.00 C72.47,373.70 75.18,373.25 77.40,372.80 C79.62,372.35 81.32,371.92 83.30,371.30 C85.28,370.68 87.38,370.40 89.30,369.10 C91.22,367.80 93.13,365.52 94.80,363.50 C96.47,361.48 97.82,359.17 99.30,357.00 C100.78,354.83 102.23,352.75 103.70,350.50 C105.17,348.25 106.62,345.82 108.10,343.50 C109.58,341.18 111.12,338.75 112.60,336.60 C114.08,334.45 115.52,332.47 117.00,330.60 C118.48,328.73 120.02,327.12 121.50,325.40 C122.98,323.68 124.42,321.87 125.90,320.30 C127.38,318.73 128.73,317.52 130.40,316.00 C132.07,314.48 133.98,312.60 135.90,311.20 C137.82,309.80 139.92,308.68 141.90,307.60 C143.88,306.52 145.83,305.57 147.80,304.70 C149.77,303.83 151.73,303.13 153.70,302.40 C155.67,301.67 157.62,300.87 159.60,300.30 C161.58,299.73 163.62,299.28 165.60,299.00 C167.58,298.72 169.53,298.77 171.50,298.60 C173.47,298.43 175.55,298.20 177.40,298.00 C179.25,297.80 181.73,297.50 182.60,297.40" fill="none" stroke="#fbe2f5" stroke-width="9" stroke-linejoin="round" stroke-linecap="square"/>
<rect x="25.50" y="286.50" width="159.70" height="101.00" fill="none" stroke="#858585" stroke-width="1.3"/>
<text x="23.10" y="389.50" font-size="5.9" text-anchor="end" class="s">1.6</text>
<path d="M25.50,370.67h1.60M185.20,370.67h-1.60" stroke="#858585" stroke-width="1.3"/>
<text x="23.10" y="372.67" font-size="5.9" text-anchor="end" class="s">1.7</text>
<path d="M25.50,353.83h1.60M185.20,353.83h-1.60" stroke="#858585" stroke-width="1.3"/>
<text x="23.10" y="355.83" font-size="5.9" text-anchor="end" class="s">1.8</text>
<path d="M25.50,337.00h1.60M185.20,337.00h-1.60" stroke="#858585" stroke-width="1.3"/>
<text x="23.10" y="339.00" font-size="5.9" text-anchor="end" class="s">1.9</text>
<path d="M25.50,320.17h1.60M185.20,320.17h-1.60" stroke="#858585" stroke-width="1.3"/>
<text x="23.10" y="322.17" font-size="5.9" text-anchor="end" class="s">2</text>
<path d="M25.50,303.33h1.60M185.20,303.33h-1.60" stroke="#858585" stroke-width="1.3"/>
<text x="23.10" y="305.33" font-size="5.9" text-anchor="end" class="s">2.1</text>
<text x="23.10" y="288.50" font-size="5.9" text-anchor="end" class="s">2.2</text>
<text transform="translate(30.10,394.70) rotate(-45)" font-size="5.9" text-anchor="end" class="s">May</text>
<path d="M48.63,387.50v-1.60M48.63,286.50v1.60" stroke="#858585" stroke-width="1.3"/>
<text transform="translate(53.23,394.70) rotate(-45)" font-size="5.9" text-anchor="end" class="s">Jun</text>
<path d="M71.02,387.50v-1.60M71.02,286.50v1.60" stroke="#858585" stroke-width="1.3"/>
<text transform="translate(75.62,394.70) rotate(-45)" font-size="5.9" text-anchor="end" class="s">Jul</text>
<path d="M94.16,387.50v-1.60M94.16,286.50v1.60" stroke="#858585" stroke-width="1.3"/>
<text transform="translate(98.76,394.70) rotate(-45)" font-size="5.9" text-anchor="end" class="s">Aug</text>
<path d="M117.29,387.50v-1.60M117.29,286.50v1.60" stroke="#858585" stroke-width="1.3"/>
<text transform="translate(121.89,394.70) rotate(-45)" font-size="5.9" text-anchor="end" class="s">Sep</text>
<path d="M139.68,387.50v-1.60M139.68,286.50v1.60" stroke="#858585" stroke-width="1.3"/>
<text transform="translate(144.28,394.70) rotate(-45)" font-size="5.9" text-anchor="end" class="s">Oct</text>
<path d="M162.81,387.50v-1.60M162.81,286.50v1.60" stroke="#858585" stroke-width="1.3"/>
<text transform="translate(167.41,394.70) rotate(-45)" font-size="5.9" text-anchor="end" class="s">Nov</text>
<text transform="translate(189.80,394.70) rotate(-45)" font-size="5.9" text-anchor="end" class="s">Dec</text>
<text x="174.80" y="409.00" font-size="5.9" text-anchor="middle" class="s">2021</text>
<text x="105.35" y="284.00" font-size="7.0" text-anchor="middle" class="b">NIGERIA</text>
<text transform="translate(12.00,337.00) rotate(-90)" font-size="7.7" text-anchor="middle" class="s">Cumulative cases</text>
<text x="25.80" y="285.00" font-size="6.1" class="s"><tspan dy="0.3">&#215;</tspan><tspan dx="0.9" dy="-0.3">10</tspan><tspan font-size="4.39" dx="0.6" dy="-2.8">5</tspan></text>
<path d="M35.90,377.30 C37.38,377.10 41.83,376.45 44.80,376.10 C47.77,375.75 50.73,375.45 53.70,375.20 C56.67,374.95 59.88,374.80 62.60,374.60 C65.32,374.40 67.53,374.30 70.00,374.00 C72.47,373.70 75.18,373.25 77.40,372.80 C79.62,372.35 81.32,371.92 83.30,371.30 C85.28,370.68 87.38,370.40 89.30,369.10 C91.22,367.80 93.13,365.52 94.80,363.50 C96.47,361.48 97.82,359.17 99.30,357.00 C100.78,354.83 102.23,352.75 103.70,350.50 C105.17,348.25 106.62,345.82 108.10,343.50 C109.58,341.18 111.12,338.75 112.60,336.60 C114.08,334.45 115.52,332.47 117.00,330.60 C118.48,328.73 120.02,327.12 121.50,325.40 C122.98,323.68 124.42,321.87 125.90,320.30 C127.38,318.73 128.73,317.52 130.40,316.00 C132.07,314.48 133.98,312.60 135.90,311.20 C137.82,309.80 139.92,308.68 141.90,307.60 C143.88,306.52 145.83,305.57 147.80,304.70 C149.77,303.83 151.73,303.13 153.70,302.40 C155.67,301.67 157.62,300.87 159.60,300.30 C161.58,299.73 163.62,299.28 165.60,299.00 C167.58,298.72 169.53,298.77 171.50,298.60 C173.47,298.43 175.55,298.20 177.40,298.00 C179.25,297.80 181.73,297.50 182.60,297.40" fill="none" stroke="#a05a30" stroke-width="2.7" stroke-linejoin="round" stroke-linecap="round"/>
<path d="M35.90,377.70 C37.38,377.58 41.83,377.22 44.80,377.00 C47.77,376.78 50.73,376.60 53.70,376.40 C56.67,376.20 59.88,376.10 62.60,375.80 C65.32,375.50 67.53,375.05 70.00,374.60 C72.47,374.15 75.18,373.77 77.40,373.10 C79.62,372.43 81.32,371.77 83.30,370.60 C85.28,369.43 87.30,367.62 89.30,366.10 C91.30,364.58 93.47,363.25 95.30,361.50 C97.13,359.75 98.68,357.58 100.30,355.60 C101.92,353.62 103.45,351.70 105.00,349.60 C106.55,347.50 108.05,345.22 109.60,343.00 C111.15,340.78 112.77,338.40 114.30,336.30 C115.83,334.20 117.32,332.25 118.80,330.40 C120.28,328.55 121.73,326.93 123.20,325.20 C124.67,323.47 126.13,321.60 127.60,320.00 C129.07,318.40 130.43,317.15 132.00,315.60 C133.57,314.05 135.35,312.13 137.00,310.70 C138.65,309.27 140.10,308.12 141.90,307.00 C143.70,305.88 145.83,304.87 147.80,304.00 C149.77,303.13 151.73,302.53 153.70,301.80 C155.67,301.07 157.62,300.22 159.60,299.60 C161.58,298.98 163.62,298.52 165.60,298.10 C167.58,297.68 169.53,297.47 171.50,297.10 C173.47,296.73 175.55,296.30 177.40,295.90 C179.25,295.50 181.73,294.90 182.60,294.70" fill="none" stroke="#380c92" stroke-width="1.8" stroke-linejoin="round" stroke-linecap="butt"/>
<rect x="25.50" y="286.50" width="36.30" height="14.20" fill="#fff" stroke="#3a3a3a" stroke-width="0.9"/>
<circle cx="36.30" cy="290.40" r="1.5" fill="none" stroke="#b8906a" stroke-width="0.7"/>
<text x="45.30" y="292.30" font-size="5.6" class="s">Data</text>
<path d="M27.50,296.80h17.20" stroke="#1c108a" stroke-width="1.8"/>
<text x="45.30" y="298.30" font-size="5.6" class="s">Model</text>
<path d="M237.00,372.00 C238.50,371.80 242.80,371.17 246.00,370.80 C249.20,370.43 253.37,370.13 256.20,369.80 C259.03,369.47 260.53,369.13 263.00,368.80 C265.47,368.47 268.67,368.10 271.00,367.80 C273.33,367.50 275.02,367.23 277.00,367.00 C278.98,366.77 281.23,366.63 282.90,366.40 C284.57,366.17 285.77,365.85 287.00,365.60 C288.23,365.35 289.25,365.37 290.30,364.90 C291.35,364.43 292.18,363.78 293.30,362.80 C294.42,361.82 295.80,360.47 297.00,359.00 C298.20,357.53 299.42,355.50 300.50,354.00 C301.58,352.50 302.67,351.67 303.50,350.00 C304.33,348.33 304.85,345.92 305.50,344.00 C306.15,342.08 306.65,340.33 307.40,338.50 C308.15,336.67 309.07,334.83 310.00,333.00 C310.93,331.17 311.92,329.17 313.00,327.50 C314.08,325.83 315.33,324.37 316.50,323.00 C317.67,321.63 318.68,320.47 320.00,319.30 C321.32,318.13 322.92,317.08 324.40,316.00 C325.88,314.92 327.42,313.80 328.90,312.80 C330.38,311.80 331.57,311.00 333.30,310.00 C335.03,309.00 336.88,307.78 339.30,306.80 C341.72,305.82 344.90,304.68 347.80,304.10 C350.70,303.52 353.73,303.55 356.70,303.30 C359.67,303.05 362.65,302.80 365.60,302.60 C368.55,302.40 371.32,302.22 374.40,302.10 C377.48,301.98 382.48,301.93 384.10,301.90" fill="none" stroke="#fbe2f5" stroke-width="9" stroke-linejoin="round" stroke-linecap="square"/>
<rect x="235.60" y="285.20" width="157.70" height="104.30" fill="none" stroke="#858585" stroke-width="1.3"/>
<text x="233.20" y="391.50" font-size="5.9" text-anchor="end" class="s">0</text>
<path d="M235.60,372.12h1.60M393.30,372.12h-1.60" stroke="#858585" stroke-width="1.3"/>
<text x="233.20" y="374.12" font-size="5.9" text-anchor="end" class="s">2</text>
<path d="M235.60,354.73h1.60M393.30,354.73h-1.60" stroke="#858585" stroke-width="1.3"/>
<text x="233.20" y="356.73" font-size="5.9" text-anchor="end" class="s">4</text>
<path d="M235.60,337.35h1.60M393.30,337.35h-1.60" stroke="#858585" stroke-width="1.3"/>
<text x="233.20" y="339.35" font-size="5.9" text-anchor="end" class="s">6</text>
<path d="M235.60,319.97h1.60M393.30,319.97h-1.60" stroke="#858585" stroke-width="1.3"/>
<text x="233.20" y="321.97" font-size="5.9" text-anchor="end" class="s">8</text>
<path d="M235.60,302.58h1.60M393.30,302.58h-1.60" stroke="#858585" stroke-width="1.3"/>
<text x="233.20" y="304.58" font-size="5.9" text-anchor="end" class="s">10</text>
<text x="233.20" y="287.20" font-size="5.9" text-anchor="end" class="s">12</text>
<text transform="translate(240.20,396.70) rotate(-45)" font-size="5.9" text-anchor="end" class="s">Mar</text>
<path d="M251.58,389.50v-1.60M251.58,285.20v1.60" stroke="#858585" stroke-width="1.3"/>
<text transform="translate(256.18,396.70) rotate(-45)" font-size="5.9" text-anchor="end" class="s">Apr</text>
<path d="M267.04,389.50v-1.60M267.04,285.20v1.60" stroke="#858585" stroke-width="1.3"/>
<text transform="translate(271.64,396.70) rotate(-45)" font-size="5.9" text-anchor="end" class="s">May</text>
<path d="M283.01,389.50v-1.60M283.01,285.20v1.60" stroke="#858585" stroke-width="1.3"/>
<text transform="translate(287.61,396.70) rotate(-45)" font-size="5.9" text-anchor="end" class="s">Jun</text>
<path d="M298.47,389.50v-1.60M298.47,285.20v1.60" stroke="#858585" stroke-width="1.3"/>
<text transform="translate(303.07,396.70) rotate(-45)" font-size="5.9" text-anchor="end" class="s">Jul</text>
<path d="M314.45,389.50v-1.60M314.45,285.20v1.60" stroke="#858585" stroke-width="1.3"/>
<text transform="translate(319.05,396.70) rotate(-45)" font-size="5.9" text-anchor="end" class="s">Aug</text>
<path d="M330.43,389.50v-1.60M330.43,285.20v1.60" stroke="#858585" stroke-width="1.3"/>
<text transform="translate(335.03,396.70) rotate(-45)" font-size="5.9" text-anchor="end" class="s">Sep</text>
<path d="M345.89,389.50v-1.60M345.89,285.20v1.60" stroke="#858585" stroke-width="1.3"/>
<text transform="translate(350.49,396.70) rotate(-45)" font-size="5.9" text-anchor="end" class="s">Oct</text>
<path d="M361.86,389.50v-1.60M361.86,285.20v1.60" stroke="#858585" stroke-width="1.3"/>
<text transform="translate(366.46,396.70) rotate(-45)" font-size="5.9" text-anchor="end" class="s">Nov</text>
<path d="M377.32,389.50v-1.60M377.32,285.20v1.60" stroke="#858585" stroke-width="1.3"/>
<text transform="translate(381.92,396.70) rotate(-45)" font-size="5.9" text-anchor="end" class="s">Dec</text>
<text transform="translate(397.90,396.70) rotate(-45)" font-size="5.9" text-anchor="end" class="s">Jan</text>
<text x="382.80" y="411.40" font-size="5.9" text-anchor="middle" class="s">2021</text>
<text x="314.45" y="282.70" font-size="7.0" text-anchor="middle" class="b">RWANDA</text>
<text transform="translate(222.10,337.35) rotate(-90)" font-size="7.7" text-anchor="middle" class="s">Cumulative cases</text>
<text x="235.90" y="283.70" font-size="6.1" class="s"><tspan dy="0.3">&#215;</tspan><tspan dx="0.9" dy="-0.3">10</tspan><tspan font-size="4.39" dx="0.6" dy="-2.8">4</tspan></text>
<path d="M237.00,372.00 C238.50,371.80 242.80,371.17 246.00,370.80 C249.20,370.43 253.37,370.13 256.20,369.80 C259.03,369.47 260.53,369.13 263.00,368.80 C265.47,368.47 268.67,368.10 271.00,367.80 C273.33,367.50 275.02,367.23 277.00,367.00 C278.98,366.77 281.23,366.63 282.90,366.40 C284.57,366.17 285.77,365.85 287.00,365.60 C288.23,365.35 289.25,365.37 290.30,364.90 C291.35,364.43 292.18,363.78 293.30,362.80 C294.42,361.82 295.80,360.47 297.00,359.00 C298.20,357.53 299.42,355.50 300.50,354.00 C301.58,352.50 302.67,351.67 303.50,350.00 C304.33,348.33 304.85,345.92 305.50,344.00 C306.15,342.08 306.65,340.33 307.40,338.50 C308.15,336.67 309.07,334.83 310.00,333.00 C310.93,331.17 311.92,329.17 313.00,327.50 C314.08,325.83 315.33,324.37 316.50,323.00 C317.67,321.63 318.68,320.47 320.00,319.30 C321.32,318.13 322.92,317.08 324.40,316.00 C325.88,314.92 327.42,313.80 328.90,312.80 C330.38,311.80 331.57,311.00 333.30,310.00 C335.03,309.00 336.88,307.78 339.30,306.80 C341.72,305.82 344.90,304.68 347.80,304.10 C350.70,303.52 353.73,303.55 356.70,303.30 C359.67,303.05 362.65,302.80 365.60,302.60 C368.55,302.40 371.32,302.22 374.40,302.10 C377.48,301.98 382.48,301.93 384.10,301.90" fill="none" stroke="#8e3a1a" stroke-width="3.1" stroke-linejoin="round" stroke-linecap="round"/>
<path d="M237.00,372.00 C238.50,371.80 242.80,371.17 246.00,370.80 C249.20,370.43 253.37,370.13 256.20,369.80 C259.03,369.47 260.53,369.13 263.00,368.80 C265.47,368.47 268.67,368.10 271.00,367.80 C273.33,367.50 275.02,367.23 277.00,367.00 C278.98,366.77 281.23,366.63 282.90,366.40 C284.57,366.17 285.77,365.85 287.00,365.60 C288.23,365.35 289.25,365.37 290.30,364.90 C291.35,364.43 292.80,363.15 293.30,362.80" fill="none" stroke="#8e3a1a" stroke-width="4.6" stroke-linejoin="round" stroke-linecap="round"/>
<path d="M237.00,373.10 C238.97,373.05 244.85,372.93 248.80,372.80 C252.75,372.67 257.00,372.55 260.70,372.30 C264.40,372.05 268.05,371.72 271.00,371.30 C273.95,370.88 275.92,370.53 278.40,369.80 C280.88,369.07 283.67,368.13 285.90,366.90 C288.13,365.67 290.23,363.85 291.80,362.40 C293.37,360.95 293.90,360.27 295.30,358.20 C296.70,356.13 298.92,352.20 300.20,350.00 C301.48,347.80 301.95,346.80 303.00,345.00 C304.05,343.20 305.30,341.03 306.50,339.20 C307.70,337.37 308.98,335.78 310.20,334.00 C311.42,332.22 312.57,330.13 313.80,328.50 C315.03,326.87 316.35,325.62 317.60,324.20 C318.85,322.78 320.02,321.23 321.30,320.00 C322.58,318.77 323.97,317.87 325.30,316.80 C326.63,315.73 327.93,314.68 329.30,313.60 C330.67,312.52 332.30,311.30 333.50,310.30 C334.70,309.30 335.10,308.53 336.50,307.60 C337.90,306.67 340.02,305.42 341.90,304.70 C343.78,303.98 345.33,303.70 347.80,303.30 C350.27,302.90 353.73,302.67 356.70,302.30 C359.67,301.93 362.65,301.52 365.60,301.10 C368.55,300.68 371.45,300.22 374.40,299.80 C377.35,299.38 381.82,298.80 383.30,298.60" fill="none" stroke="#380c92" stroke-width="1.8" stroke-linejoin="round" stroke-linecap="butt"/>
<path d="M33.90,509.30 C35.38,508.92 39.83,507.62 42.80,507.00 C45.77,506.38 48.73,506.03 51.70,505.60 C54.67,505.17 57.88,504.78 60.60,504.40 C63.32,504.02 65.78,503.60 68.00,503.30 C70.22,503.00 72.23,502.90 73.90,502.60 C75.57,502.30 76.70,501.97 78.00,501.50 C79.30,501.03 80.47,500.58 81.70,499.80 C82.93,499.02 84.28,497.92 85.40,496.80 C86.52,495.68 87.42,494.45 88.40,493.10 C89.38,491.75 90.32,490.18 91.30,488.70 C92.28,487.22 93.43,485.68 94.30,484.20 C95.17,482.72 95.77,481.28 96.50,479.80 C97.23,478.32 97.83,476.78 98.70,475.30 C99.57,473.82 100.70,472.38 101.70,470.90 C102.70,469.42 103.82,467.75 104.70,466.40 C105.58,465.05 106.15,464.33 107.00,462.80 C107.85,461.27 108.50,459.03 109.80,457.20 C111.10,455.37 113.15,453.45 114.80,451.80 C116.45,450.15 118.07,448.62 119.70,447.30 C121.33,445.98 122.95,444.97 124.60,443.90 C126.25,442.83 127.80,441.88 129.60,440.90 C131.40,439.92 133.20,439.02 135.40,438.00 C137.60,436.98 140.33,435.75 142.80,434.80 C145.27,433.85 147.73,433.10 150.20,432.30 C152.67,431.50 155.13,430.72 157.60,430.00 C160.07,429.28 162.53,428.67 165.00,428.00 C167.47,427.33 169.92,426.68 172.40,426.00 C174.88,425.32 177.67,424.62 179.90,423.90 C182.13,423.18 184.82,422.07 185.80,421.70" fill="none" stroke="#fbe2f5" stroke-width="9" stroke-linejoin="round" stroke-linecap="square"/>
<rect x="25.20" y="417.30" width="162.20" height="101.50" fill="none" stroke="#858585" stroke-width="1.3"/>
<text x="22.80" y="520.80" font-size="5.9" text-anchor="end" class="s">1.5</text>
<path d="M25.20,498.50h1.60M187.40,498.50h-1.60" stroke="#858585" stroke-width="1.3"/>
<text x="22.80" y="500.50" font-size="5.9" text-anchor="end" class="s">2</text>
<path d="M25.20,478.20h1.60M187.40,478.20h-1.60" stroke="#858585" stroke-width="1.3"/>
<text x="22.80" y="480.20" font-size="5.9" text-anchor="end" class="s">2.5</text>
<path d="M25.20,457.90h1.60M187.40,457.90h-1.60" stroke="#858585" stroke-width="1.3"/>
<text x="22.80" y="459.90" font-size="5.9" text-anchor="end" class="s">3</text>
<path d="M25.20,437.60h1.60M187.40,437.60h-1.60" stroke="#858585" stroke-width="1.3"/>
<text x="22.80" y="439.60" font-size="5.9" text-anchor="end" class="s">3.5</text>
<text x="22.80" y="419.30" font-size="5.9" text-anchor="end" class="s">4</text>
<text transform="translate(29.80,526.00) rotate(-45)" font-size="5.9" text-anchor="end" class="s">Apr</text>
<path d="M42.89,518.80v-1.60M42.89,417.30v1.60" stroke="#858585" stroke-width="1.3"/>
<text transform="translate(47.49,526.00) rotate(-45)" font-size="5.9" text-anchor="end" class="s">May</text>
<path d="M61.18,518.80v-1.60M61.18,417.30v1.60" stroke="#858585" stroke-width="1.3"/>
<text transform="translate(65.78,526.00) rotate(-45)" font-size="5.9" text-anchor="end" class="s">Jun</text>
<path d="M78.87,518.80v-1.60M78.87,417.30v1.60" stroke="#858585" stroke-width="1.3"/>
<text transform="translate(83.47,526.00) rotate(-45)" font-size="5.9" text-anchor="end" class="s">Jul</text>
<path d="M97.16,518.80v-1.60M97.16,417.30v1.60" stroke="#858585" stroke-width="1.3"/>
<text transform="translate(101.76,526.00) rotate(-45)" font-size="5.9" text-anchor="end" class="s">Aug</text>
<path d="M115.44,518.80v-1.60M115.44,417.30v1.60" stroke="#858585" stroke-width="1.3"/>
<text transform="translate(120.04,526.00) rotate(-45)" font-size="5.9" text-anchor="end" class="s">Sep</text>
<path d="M133.14,518.80v-1.60M133.14,417.30v1.60" stroke="#858585" stroke-width="1.3"/>
<text transform="translate(137.74,526.00) rotate(-45)" font-size="5.9" text-anchor="end" class="s">Oct</text>
<path d="M151.42,518.80v-1.60M151.42,417.30v1.60" stroke="#858585" stroke-width="1.3"/>
<text transform="translate(156.02,526.00) rotate(-45)" font-size="5.9" text-anchor="end" class="s">Nov</text>
<path d="M169.12,518.80v-1.60M169.12,417.30v1.60" stroke="#858585" stroke-width="1.3"/>
<text transform="translate(173.72,526.00) rotate(-45)" font-size="5.9" text-anchor="end" class="s">Dec</text>
<text transform="translate(192.00,526.00) rotate(-45)" font-size="5.9" text-anchor="end" class="s">Jan</text>
<text x="177.20" y="540.50" font-size="5.9" text-anchor="middle" class="s">2021</text>
<text x="106.30" y="414.80" font-size="7.0" text-anchor="middle" class="b">LIBYA</text>
<text transform="translate(11.70,468.05) rotate(-90)" font-size="7.7" text-anchor="middle" class="s">Cumulative cases</text>
<text x="25.50" y="415.80" font-size="6.1" class="s"><tspan dy="0.3">&#215;</tspan><tspan dx="0.9" dy="-0.3">10</tspan><tspan font-size="4.39" dx="0.6" dy="-2.8">5</tspan></text>
<path d="M33.90,509.30 C35.38,508.92 39.83,507.62 42.80,507.00 C45.77,506.38 48.73,506.03 51.70,505.60 C54.67,505.17 57.88,504.78 60.60,504.40 C63.32,504.02 65.78,503.60 68.00,503.30 C70.22,503.00 72.23,502.90 73.90,502.60 C75.57,502.30 76.70,501.97 78.00,501.50 C79.30,501.03 80.47,500.58 81.70,499.80 C82.93,499.02 84.28,497.92 85.40,496.80 C86.52,495.68 87.42,494.45 88.40,493.10 C89.38,491.75 90.32,490.18 91.30,488.70 C92.28,487.22 93.43,485.68 94.30,484.20 C95.17,482.72 95.77,481.28 96.50,479.80 C97.23,478.32 97.83,476.78 98.70,475.30 C99.57,473.82 100.70,472.38 101.70,470.90 C102.70,469.42 103.82,467.75 104.70,466.40 C105.58,465.05 106.15,464.33 107.00,462.80 C107.85,461.27 108.50,459.03 109.80,457.20 C111.10,455.37 113.15,453.45 114.80,451.80 C116.45,450.15 118.07,448.62 119.70,447.30 C121.33,445.98 122.95,444.97 124.60,443.90 C126.25,442.83 127.80,441.88 129.60,440.90 C131.40,439.92 133.20,439.02 135.40,438.00 C137.60,436.98 140.33,435.75 142.80,434.80 C145.27,433.85 147.73,433.10 150.20,432.30 C152.67,431.50 155.13,430.72 157.60,430.00 C160.07,429.28 162.53,428.67 165.00,428.00 C167.47,427.33 169.92,426.68 172.40,426.00 C174.88,425.32 177.67,424.62 179.90,423.90 C182.13,423.18 184.82,422.07 185.80,421.70" fill="none" stroke="#8e3a1a" stroke-width="3.1" stroke-linejoin="round" stroke-linecap="round"/>
<path d="M33.90,510.00 C35.38,509.75 39.83,509.00 42.80,508.50 C45.77,508.00 48.73,507.53 51.70,507.00 C54.67,506.47 57.88,505.92 60.60,505.30 C63.32,504.68 65.78,504.02 68.00,503.30 C70.22,502.58 72.23,501.85 73.90,501.00 C75.57,500.15 76.70,499.28 78.00,498.20 C79.30,497.12 80.47,495.87 81.70,494.50 C82.93,493.13 84.17,491.47 85.40,490.00 C86.63,488.53 87.87,487.10 89.10,485.70 C90.33,484.30 91.68,482.90 92.80,481.60 C93.92,480.30 94.82,479.13 95.80,477.90 C96.78,476.67 97.72,475.43 98.70,474.20 C99.68,472.97 100.70,471.73 101.70,470.50 C102.70,469.27 103.75,467.95 104.70,466.80 C105.65,465.65 106.38,464.97 107.40,463.60 C108.42,462.23 109.42,460.32 110.80,458.60 C112.18,456.88 114.05,454.93 115.70,453.30 C117.35,451.67 119.05,450.20 120.70,448.80 C122.35,447.40 123.95,446.05 125.60,444.90 C127.25,443.75 128.97,442.83 130.60,441.90 C132.23,440.97 133.37,440.35 135.40,439.30 C137.43,438.25 140.33,436.68 142.80,435.60 C145.27,434.52 147.73,433.63 150.20,432.80 C152.67,431.97 155.13,431.30 157.60,430.60 C160.07,429.90 162.53,429.22 165.00,428.60 C167.47,427.98 169.92,427.43 172.40,426.90 C174.88,426.37 177.67,425.85 179.90,425.40 C182.13,424.95 184.82,424.40 185.80,424.20" fill="none" stroke="#380c92" stroke-width="1.8" stroke-linejoin="round" stroke-linecap="butt"/>
<rect x="25.20" y="417.30" width="36.30" height="14.20" fill="#fff" stroke="#3a3a3a" stroke-width="0.9"/>
<circle cx="36.00" cy="421.20" r="1.5" fill="none" stroke="#b8906a" stroke-width="0.7"/>
<text x="45.00" y="423.10" font-size="5.6" class="s">Data</text>
<path d="M27.20,427.60h17.20" stroke="#1c108a" stroke-width="1.8"/>
<text x="45.00" y="429.10" font-size="5.6" class="s">Model</text>
<path d="M260.60,512.40 C261.63,511.95 264.73,510.57 266.80,509.70 C268.87,508.83 270.93,508.23 273.00,507.20 C275.07,506.17 277.15,504.73 279.20,503.50 C281.25,502.27 283.43,501.02 285.30,499.80 C287.17,498.58 288.97,497.20 290.40,496.20 C291.83,495.20 292.72,494.62 293.90,493.80 C295.08,492.98 296.32,492.10 297.50,491.30 C298.68,490.50 299.75,489.80 301.00,489.00 C302.25,488.20 303.50,487.37 305.00,486.50 C306.50,485.63 308.35,485.22 310.00,483.80 C311.65,482.38 313.55,479.78 314.90,478.00 C316.25,476.22 316.93,474.77 318.10,473.10 C319.27,471.43 320.83,469.77 321.90,468.00 C322.97,466.23 323.57,464.42 324.50,462.50 C325.43,460.58 326.42,458.42 327.50,456.50 C328.58,454.58 329.58,452.75 331.00,451.00 C332.42,449.25 334.18,447.77 336.00,446.00 C337.82,444.23 339.93,442.10 341.90,440.40 C343.87,438.70 345.83,437.07 347.80,435.80 C349.77,434.53 351.73,433.55 353.70,432.80 C355.67,432.05 357.62,431.78 359.60,431.30 C361.58,430.82 363.62,430.33 365.60,429.90 C367.58,429.47 369.53,429.00 371.50,428.70 C373.47,428.40 375.67,428.20 377.40,428.10 C379.13,428.00 381.15,428.10 381.90,428.10" fill="none" stroke="#fbe2f5" stroke-width="9" stroke-linejoin="round" stroke-linecap="square"/>
<rect x="236.50" y="419.30" width="155.90" height="104.10" fill="none" stroke="#858585" stroke-width="1.3"/>
<text x="234.10" y="525.40" font-size="5.9" text-anchor="end" class="s">1.6</text>
<path d="M236.50,502.58h1.60M392.40,502.58h-1.60" stroke="#858585" stroke-width="1.3"/>
<text x="234.10" y="504.58" font-size="5.9" text-anchor="end" class="s">1.8</text>
<path d="M236.50,481.76h1.60M392.40,481.76h-1.60" stroke="#858585" stroke-width="1.3"/>
<text x="234.10" y="483.76" font-size="5.9" text-anchor="end" class="s">2</text>
<path d="M236.50,460.94h1.60M392.40,460.94h-1.60" stroke="#858585" stroke-width="1.3"/>
<text x="234.10" y="462.94" font-size="5.9" text-anchor="end" class="s">2.2</text>
<path d="M236.50,440.12h1.60M392.40,440.12h-1.60" stroke="#858585" stroke-width="1.3"/>
<text x="234.10" y="442.12" font-size="5.9" text-anchor="end" class="s">2.4</text>
<text x="234.10" y="421.30" font-size="5.9" text-anchor="end" class="s">2.6</text>
<text transform="translate(241.10,530.60) rotate(-45)" font-size="5.9" text-anchor="end" class="s">May</text>
<path d="M262.77,523.40v-1.60M262.77,419.30v1.60" stroke="#858585" stroke-width="1.3"/>
<text transform="translate(267.37,530.60) rotate(-45)" font-size="5.9" text-anchor="end" class="s">Jun</text>
<path d="M288.18,523.40v-1.60M288.18,419.30v1.60" stroke="#858585" stroke-width="1.3"/>
<text transform="translate(292.78,530.60) rotate(-45)" font-size="5.9" text-anchor="end" class="s">Jul</text>
<path d="M314.45,523.40v-1.60M314.45,419.30v1.60" stroke="#858585" stroke-width="1.3"/>
<text transform="translate(319.05,530.60) rotate(-45)" font-size="5.9" text-anchor="end" class="s">Aug</text>
<path d="M340.72,523.40v-1.60M340.72,419.30v1.60" stroke="#858585" stroke-width="1.3"/>
<text transform="translate(345.32,530.60) rotate(-45)" font-size="5.9" text-anchor="end" class="s">Sep</text>
<path d="M366.13,523.40v-1.60M366.13,419.30v1.60" stroke="#858585" stroke-width="1.3"/>
<text transform="translate(370.73,530.60) rotate(-45)" font-size="5.9" text-anchor="end" class="s">Oct</text>
<text transform="translate(397.00,530.60) rotate(-45)" font-size="5.9" text-anchor="end" class="s">Nov</text>
<text x="382.80" y="545.00" font-size="5.9" text-anchor="middle" class="s">2021</text>
<text x="314.45" y="416.80" font-size="7.0" text-anchor="middle" class="b">KENYA</text>
<text transform="translate(223.00,471.35) rotate(-90)" font-size="7.7" text-anchor="middle" class="s">Cumulative cases</text>
<text x="236.80" y="417.80" font-size="6.1" class="s"><tspan dy="0.3">&#215;</tspan><tspan dx="0.9" dy="-0.3">10</tspan><tspan font-size="4.39" dx="0.6" dy="-2.8">5</tspan></text>
<path d="M260.60,512.40 C261.63,511.95 264.73,510.57 266.80,509.70 C268.87,508.83 270.93,508.23 273.00,507.20 C275.07,506.17 277.15,504.73 279.20,503.50 C281.25,502.27 283.43,501.02 285.30,499.80 C287.17,498.58 288.97,497.20 290.40,496.20 C291.83,495.20 292.72,494.62 293.90,493.80 C295.08,492.98 296.32,492.10 297.50,491.30 C298.68,490.50 299.75,489.80 301.00,489.00 C302.25,488.20 303.50,487.37 305.00,486.50 C306.50,485.63 308.35,485.22 310.00,483.80 C311.65,482.38 313.55,479.78 314.90,478.00 C316.25,476.22 316.93,474.77 318.10,473.10 C319.27,471.43 320.83,469.77 321.90,468.00 C322.97,466.23 323.57,464.42 324.50,462.50 C325.43,460.58 326.42,458.42 327.50,456.50 C328.58,454.58 329.58,452.75 331.00,451.00 C332.42,449.25 334.18,447.77 336.00,446.00 C337.82,444.23 339.93,442.10 341.90,440.40 C343.87,438.70 345.83,437.07 347.80,435.80 C349.77,434.53 351.73,433.55 353.70,432.80 C355.67,432.05 357.62,431.78 359.60,431.30 C361.58,430.82 363.62,430.33 365.60,429.90 C367.58,429.47 369.53,429.00 371.50,428.70 C373.47,428.40 375.67,428.20 377.40,428.10 C379.13,428.00 381.15,428.10 381.90,428.10" fill="none" stroke="#b05a3a" stroke-width="3.4" stroke-linejoin="round" stroke-linecap="round"/>
<path d="M260.60,512.80 C261.63,512.48 264.73,511.53 266.80,510.90 C268.87,510.27 270.93,509.68 273.00,509.00 C275.07,508.32 277.15,507.67 279.20,506.80 C281.25,505.93 283.63,504.78 285.30,503.80 C286.97,502.82 287.97,501.87 289.20,500.90 C290.43,499.93 291.52,499.03 292.70,498.00 C293.88,496.97 295.12,495.78 296.30,494.70 C297.48,493.62 298.62,492.58 299.80,491.50 C300.98,490.42 302.30,489.42 303.40,488.20 C304.50,486.98 305.18,485.80 306.40,484.20 C307.62,482.60 309.27,480.37 310.70,478.60 C312.13,476.83 313.53,475.28 315.00,473.60 C316.47,471.92 318.33,469.97 319.50,468.50 C320.67,467.03 320.97,466.25 322.00,464.80 C323.03,463.35 324.27,461.55 325.70,459.80 C327.13,458.05 328.95,456.00 330.60,454.30 C332.25,452.60 334.12,450.92 335.60,449.60 C337.08,448.28 338.27,447.57 339.50,446.40 C340.73,445.23 341.62,443.88 343.00,442.60 C344.38,441.32 346.02,439.97 347.80,438.70 C349.58,437.43 351.73,436.05 353.70,435.00 C355.67,433.95 357.62,433.22 359.60,432.40 C361.58,431.58 363.62,430.82 365.60,430.10 C367.58,429.38 369.53,428.77 371.50,428.10 C373.47,427.43 375.80,426.67 377.40,426.10 C379.00,425.53 380.48,424.93 381.10,424.70" fill="none" stroke="#380c92" stroke-width="1.8" stroke-linejoin="round" stroke-linecap="butt"/>
<rect x="236.50" y="419.30" width="36.30" height="14.20" fill="#fff" stroke="#3a3a3a" stroke-width="0.9"/>
<circle cx="247.30" cy="423.20" r="1.5" fill="none" stroke="#b8906a" stroke-width="0.7"/>
<text x="256.30" y="425.10" font-size="5.6" class="s">Data</text>
<path d="M238.50,429.60h17.20" stroke="#1c108a" stroke-width="1.8"/>
<text x="256.30" y="431.10" font-size="5.6" class="s">Model</text>
<path d="M45.00,134.50 C46.88,132.00 52.22,124.83 56.30,119.50 C60.38,114.17 65.32,107.63 69.50,102.50 C73.68,97.37 78.10,92.45 81.40,88.70 C84.70,84.95 87.98,81.45 89.30,80.00" fill="none" stroke="#ff7ccf" stroke-width="1" stroke-opacity="0.7" stroke-linecap="round"/>
<path d="M-1.00,193.00 C3.33,187.83 19.00,169.53 25.00,162.00 C31.00,154.47 32.43,151.38 35.00,147.80 C37.57,144.22 38.40,143.13 40.40,140.50 C42.40,137.87 45.90,133.42 47.00,132.00" fill="none" stroke="#ff7ccf" stroke-width="1.1" stroke-opacity="0.8" stroke-linecap="round"/>
<path d="M77.40,96.60 C78.67,95.92 82.50,93.88 85.00,92.50 C87.50,91.12 90.13,90.30 92.40,88.30 C94.67,86.30 95.67,82.55 98.60,80.50 C101.53,78.45 105.60,77.25 110.00,76.00 C114.40,74.75 119.73,73.73 125.00,73.00 C130.27,72.27 138.83,71.83 141.60,71.60" fill="none" stroke="#ff7ccf" stroke-width="1.1" stroke-opacity="0.8" stroke-linecap="round"/>
<path d="M127.00,38.80 C129.17,38.53 134.68,37.63 140.00,37.20 C145.32,36.77 155.75,36.37 158.90,36.20" fill="none" stroke="#ff7ccf" stroke-width="1.1" stroke-opacity="0.8" stroke-linecap="round"/>
<path d="M108.00,53.50 C109.87,52.63 117.33,49.17 119.20,48.30" fill="none" stroke="#ff7ccf" stroke-width="1.1" stroke-opacity="0.8" stroke-linecap="round"/>
<path d="M136.50,62.60 C139.52,62.43 151.58,61.77 154.60,61.60" fill="none" stroke="#ff7ccf" stroke-width="1.1" stroke-opacity="0.8" stroke-linecap="round"/>
<path d="M137.40,207.00 C141.10,206.38 152.60,204.53 159.60,203.30 C166.60,202.07 174.05,201.45 179.40,199.60 C184.75,197.75 187.18,195.08 191.70,192.20 C196.22,189.32 204.03,183.95 206.50,182.30" fill="none" stroke="#ff7ccf" stroke-width="1.1" stroke-opacity="0.8" stroke-linecap="round"/>
<path d="M147.30,215.70 C151.82,214.47 167.62,211.08 174.40,208.30 C181.18,205.52 185.73,200.55 188.00,199.00" fill="none" stroke="#ff7ccf" stroke-width="1.1" stroke-opacity="0.8" stroke-linecap="round"/>
<path d="M191.70,194.70 C193.35,193.25 199.95,187.45 201.60,186.00" fill="none" stroke="#ff7ccf" stroke-width="1.1" stroke-opacity="0.8" stroke-linecap="round"/>
<path d="M136.20,224.30 C137.83,224.30 144.37,224.30 146.00,224.30" fill="none" stroke="#ff7ccf" stroke-width="1.1" stroke-opacity="0.8" stroke-linecap="round"/>
</svg></body></html>
